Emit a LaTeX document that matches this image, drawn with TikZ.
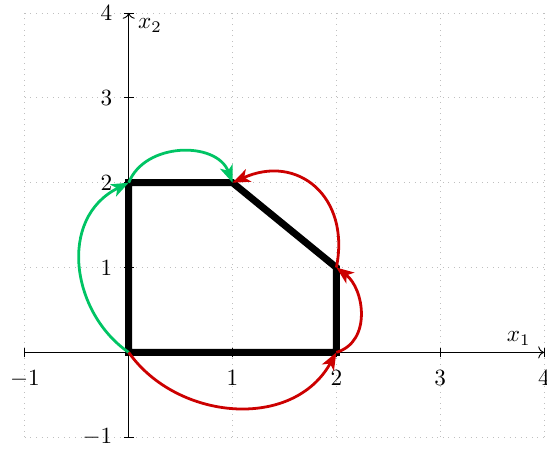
\documentclass[tikz,border=0pt]{standalone}
\usetikzlibrary{arrows.meta}
\definecolor{mygreen}{RGB}{0,196,100}
\definecolor{myred}{RGB}{204,0,0}
\begin{document}
\begin{tikzpicture}[x=44.72pt,y=36.55pt,
  gridline/.style={black!25, dotted, line width=0.4pt},
  axisline/.style={->, line width=0.4pt},
  tickmark/.style={line width=0.4pt},
  ticklbl/.style={inner sep=0pt},
  poly/.style={line width=3pt},
  tipstyle/.style={-{Stealth[length=7.5pt,width=5.8pt,inset=2pt]}},
  greenarr/.style={mygreen, very thick, tipstyle},
  redarr/.style={myred, very thick, tipstyle}]
\useasboundingbox (-1.240,-1.176) rectangle (4.029,4.153);
\foreach \i in {-1,...,4} {
  \draw[gridline] (\i,-1) -- (\i,4);
  \draw[gridline] (-1,\i) -- (4,\i);
}
\coordinate (xs) at (-1,0);
\coordinate (xe) at (4,0);
\coordinate (ys) at (0,-1);
\coordinate (ye) at (0,4);
\draw[axisline] (xs) -- (xe);
\draw[axisline] (ys) -- (ye);
\foreach \i [count=\k] in {-1,1,2,3,4} {
  \draw[tickmark] (\i,0) ++(0,-2.1pt) -- ++(0,4.2pt);
  \draw[tickmark] (0,\i) ++(-2.1pt,0) -- ++(4.2pt,0);
  \node[ticklbl, anchor=north] (xl\k) at (\i,-0.212) {$\i$};
  \node[ticklbl, anchor=east] (yl\k) at (-0.154,\i) {$\i$};
}
\node[inner sep=0pt, anchor=south east] (xlab) at (3.875,0.08) {$x_1$};
\node[inner sep=0pt, anchor=north west] (ylab) at (0.087,3.94) {$x_2$};
\coordinate (v0) at (0,0);
\coordinate (v1) at (2,0);
\coordinate (v2) at (2,1);
\coordinate (v3) at (1,2);
\coordinate (v4) at (0,2);
\draw[poly] (v0) -- (v1) -- (v2) -- (v3) -- (v4) -- cycle;
\draw[greenarr] (v0) .. controls (-0.55,0.46) and (-0.69,1.58) .. (v4);
\draw[greenarr] (v4) .. controls (0.155,2.480) and (0.847,2.493) .. (v3);
\draw[redarr] (v1) .. controls (2.345,0.127) and (2.269,0.753) .. (v2);
\draw[redarr] (v2) .. controls (2.138,1.831) and (1.630,2.347) .. (v3);
\draw[redarr] (v0) .. controls (0.46,-0.80) and (1.58,-0.93) .. (v1);
\end{tikzpicture}
\end{document}
